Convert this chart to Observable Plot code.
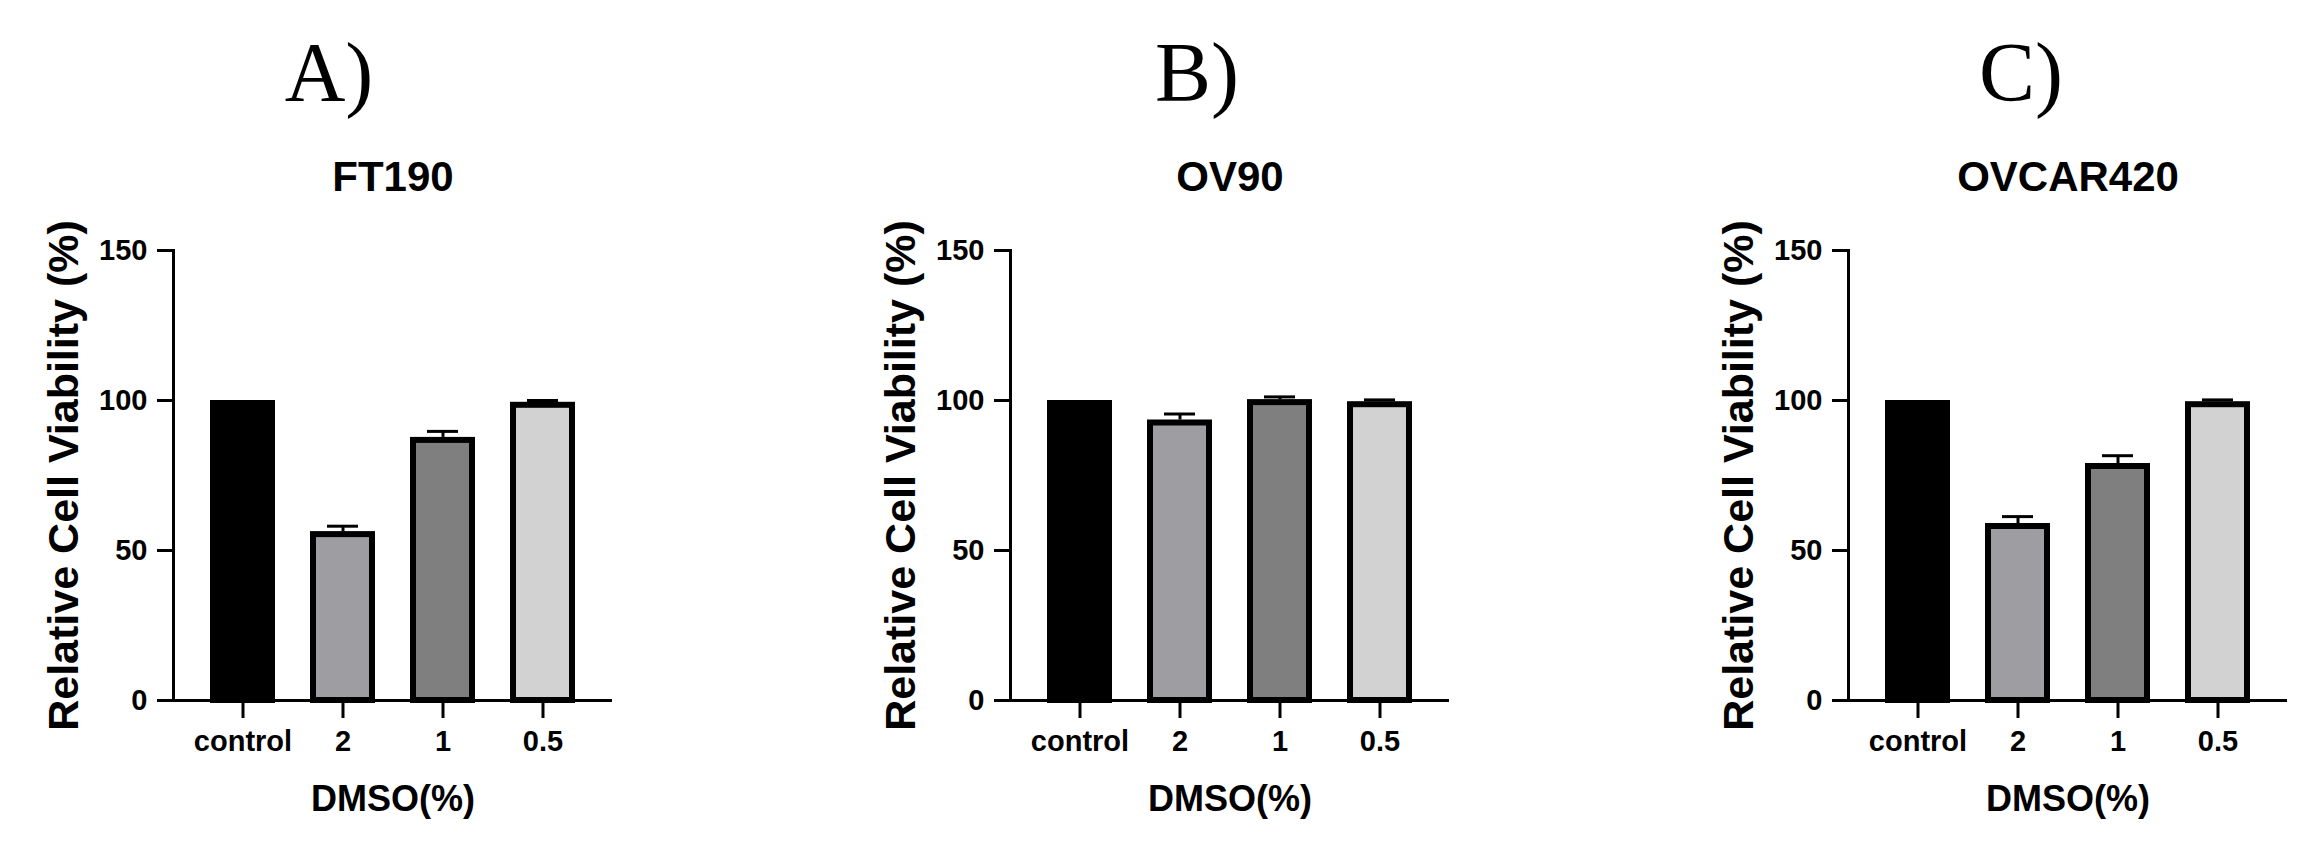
<!DOCTYPE html>
<html>
<head>
<meta charset="utf-8">
<script src="https://cdn.jsdelivr.net/npm/d3@7"></script>
<script src="https://cdn.jsdelivr.net/npm/@observablehq/plot@0.6"></script>
<style>
  html, body { margin: 0; padding: 0; background: #fff; }
  #root { position: relative; width: 2308px; height: 864px; overflow: hidden; background: #fff; }
  .panel { position: absolute; top: 0; }
</style>
</head>
<body>
<div id="root"></div>
<script>
// ---- data ----
const categories = ["control", "2", "1", "0.5"];
const panelLetters = ["A)", "B)", "C)"];
const cellLines = ["FT190", "OV90", "OVCAR420"];
const ft190Means = [100, 56.3, 87.7, 99.4];
const ft190Errors = [0, 1.8, 2.0, 0.6];
const ov90Means = [100, 93.5, 100.3, 99.6];
const ov90Errors = [0, 2.0, 0.9, 0.6];
const ovcar420Means = [100, 59.0, 79.0, 99.6];
const ovcar420Errors = [0, 2.3, 2.6, 0.6];
const yTicks = [0, 50, 100, 150];
const xLabel = "DMSO(%)";
const yLabel = "Relative Cell Viability (%)";

// ---- styling / layout ----
const barColors = ["#000000", "#9e9ea2", "#7f7f7f", "#d2d2d2"];
const panelLeft = [0, 837, 1675];
const letterDx = [-64, -33, -47];
const font = "'Liberation Sans', Arial, Helvetica, sans-serif";

const seriesMeans = [ft190Means, ov90Means, ovcar420Means];
const seriesErrors = [ft190Errors, ov90Errors, ovcar420Errors];

const root = document.getElementById("root");

cellLines.forEach((name, i) => {
  const data = categories.map((c, j) => ({cat: c, val: seriesMeans[i][j], err: seriesErrors[i][j]}));
  const errData = data.filter(d => d.err > 0);
  const chart = Plot.plot({
    width: 632,
    height: 864,
    marginLeft: 173,
    marginRight: 20,
    marginTop: 250,
    marginBottom: 164,
    style: {fontFamily: font, background: "transparent", color: "#000"},
    x: {domain: categories, padding: 0.35, label: null},
    y: {domain: [0, 150], label: null},
    color: {domain: categories, range: barColors},
    marks: [
      Plot.barY(data, {x: "cat", y: "val", fill: "cat", stroke: "#000", strokeWidth: 6,
        insetLeft: 3, insetRight: 3, insetTop: 3}),
      Plot.ruleX(errData, {x: "cat", y1: "val", y2: d => d.val + d.err, stroke: "#000", strokeWidth: 3}),
      Plot.tickY(errData, {x: "cat", y: d => d.val + d.err, stroke: "#000", strokeWidth: 3,
        insetLeft: 17, insetRight: 17}),
      Plot.ruleY([0], {stroke: "#000", strokeWidth: 3}),
      Plot.frame({anchor: "left", stroke: "#000", strokeWidth: 3}),
      Plot.axisY({ticks: yTicks, tickSize: 16, tickPadding: 10, fontSize: 29, fontWeight: "bold",
        stroke: "#000", strokeWidth: 3, label: null, tickFormat: d => String(d)}),
      Plot.axisX({tickSize: 18, tickPadding: 12, fontSize: 29, fontWeight: "bold",
        stroke: "#000", strokeWidth: 3, label: null}),
      Plot.text([yLabel], {frameAnchor: "left", text: d => d, rotate: -90, dx: -96,
        textAnchor: "middle", lineAnchor: "bottom", fontSize: 43, fontWeight: "bold", fill: "#000"}),
      Plot.text([xLabel], {frameAnchor: "bottom", text: d => d, dy: 110,
        textAnchor: "middle", lineAnchor: "bottom", fontSize: 36, fontWeight: "bold", fill: "#000"}),
      Plot.text([name], {frameAnchor: "top", text: d => d, dy: -60,
        textAnchor: "middle", lineAnchor: "bottom", fontSize: 42, fontWeight: "bold", fill: "#000"}),
      Plot.text([panelLetters[i]], {frameAnchor: "top", text: d => d, dy: -150, dx: letterDx[i],
        textAnchor: "middle", lineAnchor: "bottom", fontSize: 84, fontFamily: "'Liberation Serif', 'Times New Roman', serif",
        fontWeight: "normal", fill: "#000"})
    ]
  });
  const div = document.createElement("div");
  div.className = "panel";
  div.style.left = panelLeft[i] + "px";
  div.appendChild(chart);
  root.appendChild(div);
});
</script>
</body>
</html>
